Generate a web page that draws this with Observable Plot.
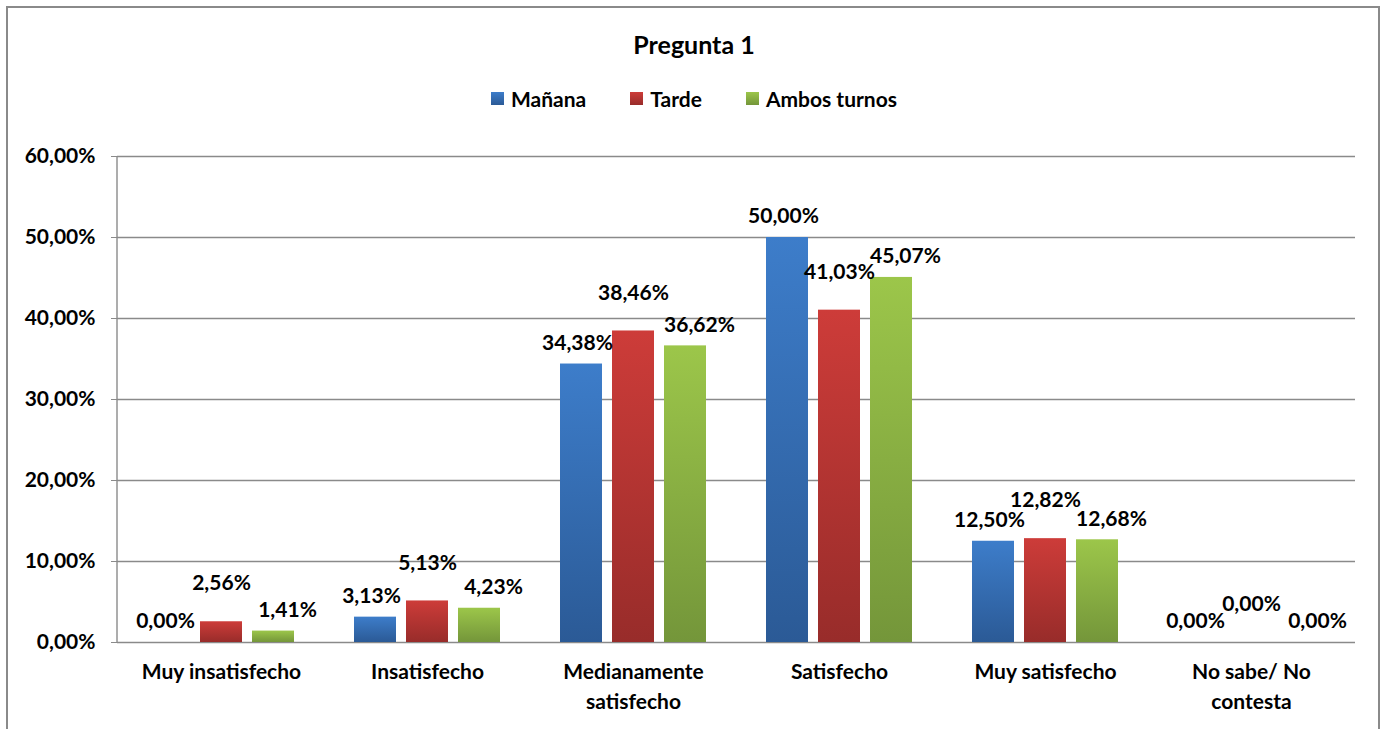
<!DOCTYPE html>
<html>
<head>
<meta charset="utf-8">
<script src="https://cdn.jsdelivr.net/npm/d3@7"></script>
<script src="https://cdn.jsdelivr.net/npm/@observablehq/plot@0.6"></script>
<style>
  html, body { margin: 0; padding: 0; background: #fff; overflow: hidden; }
  body { font-family: Lato, "Open Sans", sans-serif; font-weight: 700; color: #000; }
  #frame { position: absolute; left: 6px; top: 6px; width: 1374px; height: 800px; border: 2px solid #8a8a8a; box-sizing: border-box; pointer-events: none; }
  #header { position: relative; height: 130px; }
  #title { position: absolute; left: 0; right: 0; top: 29px; text-align: center; font-size: 25px; }
  #legend { position: absolute; left: 0; right: 0; top: 86px; display: flex; justify-content: center; gap: 44px; font-size: 21px; }
  .item { display: flex; align-items: center; gap: 7px; }
  .sw { width: 13px; height: 13px; display: inline-block; }
  #chart svg { display: block; }
</style>
</head>
<body>
<div id="header">
  <div id="title">Pregunta 1</div>
  <div id="legend"></div>
</div>
<div id="chart"></div>
<div id="frame"></div>
<script>
const categories = ["Muy insatisfecho", "Insatisfecho", "Medianamente satisfecho", "Satisfecho", "Muy satisfecho", "No sabe/ No contesta"];
const categoryLabels = ["Muy insatisfecho", "Insatisfecho", "Medianamente\nsatisfecho", "Satisfecho", "Muy satisfecho", "No sabe/ No\ncontesta"];
const series = ["Mañana", "Tarde", "Ambos turnos"];
const manana = [0.00, 3.13, 34.38, 50.00, 12.50, 0.00];
const tarde = [2.56, 5.13, 38.46, 41.03, 12.82, 0.00];
const ambos = [1.41, 4.23, 36.62, 45.07, 12.68, 0.00];
const yTicks = [0, 10, 20, 30, 40, 50, 60];

const seriesValues = [manana, tarde, ambos];
const gradTop = ["#3d7dca", "#cd3c39", "#9cc64a"];
const gradBottom = ["#2b5a96", "#982c2a", "#74963a"];
const barDx = [-52, 0, 52];
const labelDx = [-56, 0, 66];
const labelDy = [-21, -38, -21];

const data = categories.flatMap((c, i) => series.map((s, k) => ({cat: c, series: s, k, value: seriesValues[k][i]})));
const fmt = v => d3.format(".2f")(v).replace(".", ",") + "%";
const font = "Lato, 'Open Sans', sans-serif";
const fs = 21;

// legend
const legend = document.getElementById("legend");
series.forEach((s, k) => {
  const it = document.createElement("div");
  it.className = "item";
  it.innerHTML = `<span class="sw" style="background:linear-gradient(${gradTop[k]},${gradBottom[k]})"></span><span>${s}</span>`;
  legend.appendChild(it);
});

const marks = [
  Plot.ruleY(yTicks, {stroke: "#8a8a8a", strokeWidth: 1.4}),
  Plot.axisY({ticks: yTicks, tickSize: 6, tickPadding: 16, tickFormat: fmt, stroke: "#8a8a8a", fontSize: fs, fontWeight: 700, fill: "#000", label: null}),
  Plot.axisX({tickSize: 0, tickPadding: 16, tickFormat: c => categoryLabels[categories.indexOf(c)], fontSize: fs, fontWeight: 700, lineHeight: 1.4, fill: "#000", label: null})
];
series.forEach((s, k) => {
  marks.push(Plot.barY(data.filter(d => d.k === k), {x: "cat", y: "value", dx: barDx[k], fill: `url(#grad${k})`, filter: d => d.value > 0}));
});
series.forEach((s, k) => {
  marks.push(Plot.text(data.filter(d => d.k === k), {x: "cat", y: "value", text: d => fmt(d.value), dx: labelDx[k], dy: labelDy[k], fontSize: fs, fontWeight: 700, fill: "#000"}));
});

const chart = Plot.plot({
  width: 1388,
  height: 599,
  marginLeft: 117,
  marginRight: 33,
  marginTop: 26,
  marginBottom: 87,
  style: {fontFamily: font, background: "transparent", overflow: "visible"},
  x: {domain: categories, paddingInner: 0.796, paddingOuter: 0.398, axis: null},
  y: {domain: [0, 60], axis: null},
  marks
});

const svg = d3.select(chart);
const defs = svg.insert("defs", ":first-child");
series.forEach((s, k) => {
  const g = defs.append("linearGradient").attr("id", `grad${k}`).attr("x1", 0).attr("y1", 0).attr("x2", 0).attr("y2", 1);
  g.append("stop").attr("offset", "0%").attr("stop-color", gradTop[k]);
  g.append("stop").attr("offset", "100%").attr("stop-color", gradBottom[k]);
});
// y axis line
const ys = chart.scale("y");
svg.append("line")
  .attr("x1", 117).attr("x2", 117)
  .attr("y1", ys.apply(0)).attr("y2", ys.apply(60))
  .attr("stroke", "#8a8a8a").attr("stroke-width", 1.4);

document.getElementById("chart").appendChild(chart);
</script>
</body>
</html>
